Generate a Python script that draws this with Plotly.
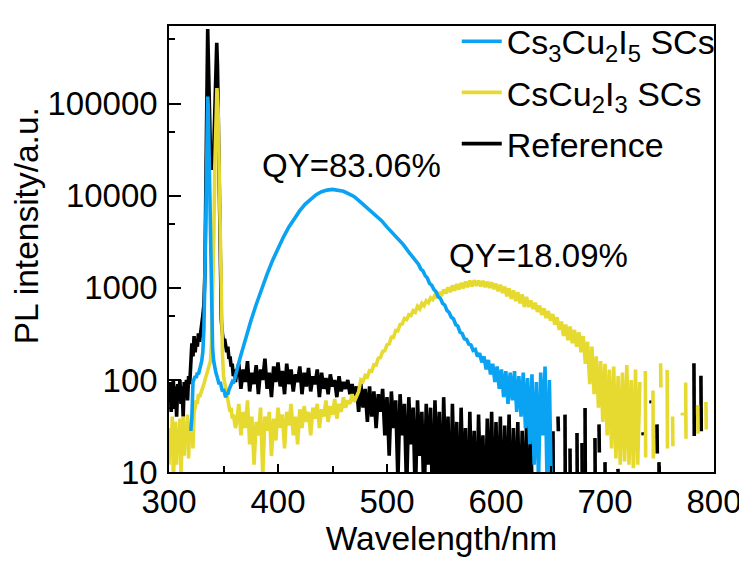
import plotly.graph_objects as go

# ---------------- data ----------------
# Cs3Cu2I5 SCs (blue)
blue_wl = (list(range(320, 336)) + [335.5] + list(range(336, 361))
           + list(range(365, 526, 5)) + list(range(527, 652, 2)))
blue_I = ([28, 40, 95, 100, 110, 105, 120, 115, 130, 140, 160, 200, 350, 1500, 15000, 90000]
          + [120000]
          + [95000, 20000, 2500, 500, 220, 160, 130, 120, 110, 100, 90, 95, 80, 75, 80,
             70, 65, 72, 70, 78, 82, 88, 95, 92, 100]
          + [170, 275, 435, 660, 980, 1410, 1990, 2710, 3570, 4590, 5700, 6900, 8130, 9290,
             10300, 11070, 11540, 11750, 11600, 11200, 10500, 9800, 8700, 7760, 6900, 6170,
             5370, 4570, 3980, 3470, 2950, 2450, 2040]
          + [1900, 1800, 1600, 1530, 1360, 1280, 1120, 1070, 960, 910, 800, 770, 680, 650, 570,
             540, 480, 460, 400, 385, 330, 320, 280, 275, 245, 240, 210, 215, 180, 195,
             155, 180, 130, 165, 115, 150, 95, 140, 80, 130, 65, 125, 55, 120, 60, 125, 45,
             110, 40, 120, 30, 105, 20, 115, 12, 95, 8, 120, 25, 140, 6, 100, 4])

# CsCu2I3 SCs (yellow)
yel_wl = (list(range(300, 344)) + [344] + list(range(345, 362))
          + list(range(362, 475, 2)) + list(range(476, 733, 2)))
yel_I = ([12, 30, 15, 40, 8, 25, 35, 12, 30, 20, 38, 10, 28, 40, 15, 35, 22, 42, 14, 35,
          25, 40, 18, 45, 50, 60, 55, 70, 65, 70]
         + [75, 80, 90, 100, 110, 120, 130, 140, 160, 250, 700, 3000, 20000, 90000]
         + [148000]
         + [90000, 20000, 3000, 600, 200, 110, 95, 80, 70, 57, 55, 45, 50, 38, 42, 32, 30]
         + [35, 55, 25, 45, 30, 60, 20, 40, 12, 35, 25, 50, 9, 40, 28, 45, 15, 38, 22, 50,
            30, 42, 18, 45, 32, 55, 25, 40, 20, 48, 30, 52, 35, 45, 25, 50, 38, 55, 30, 48,
            40, 60, 35, 52, 42, 62, 38, 55, 45, 65, 50, 60, 55, 70, 58, 65, 75]
         + [100, 96, 112, 108, 126, 124, 146, 145, 172, 175, 204, 208, 240, 246, 292, 290,
            345, 342, 400, 405, 465, 452, 510, 500, 565, 545, 630, 590, 680, 640, 725, 690,
            780, 745, 840, 780, 900, 820, 960, 870, 1010, 900, 1060, 930, 1100, 960, 1130,
            990, 1170, 1020, 1200, 1040, 1210, 1050, 1200, 1040, 1190, 1020, 1170, 1000,
            1150, 970, 1110, 920, 1080, 880, 1030, 810, 990, 760, 940, 720, 900, 680, 850,
            620, 800, 620, 730, 590, 690, 550, 640, 510, 600, 470, 560, 440, 520, 400, 480,
            350, 430, 300, 400, 270, 380, 250, 350, 230, 330, 200, 300, 150, 260, 90, 230,
            70, 180, 50, 160, 35, 150, 25, 130, 18, 140, 14, 110, 12, 120, 13, 145, 12, 100,
            11, 130, 12, 95])
# isolated yellow fragments beyond 732 nm (None = no positive reading)
yel_seg_wl = [None, 737, 737.3, None, 744, 744.3, None, 751, 751.3, None, 757, 757.3, None,
              762, 762.3, None, 770.8, 771.2, None, 774, 774.3, None, 785, 785.3, None,
              792.6, 792.9]
yel_seg_I = [None, 125, 14.4, None, 77, 14, None, 152, 83, None, 128, 18, None,
             40, 19, None, 44, 41, None, 94, 23, None, 53.5, 26, None, 57.5, 29]

# Reference (black)
blk_wl = (list(range(300, 336)) + [335.5] + list(range(336, 344)) + [343.8, 344.5]
          + list(range(345, 363)) + list(range(364, 635, 2)))
blk_I = ([60, 95, 45, 80, 100, 50, 85, 40, 90, 65, 100, 55, 85, 40, 95, 70, 100, 60, 110, 90]
         + [150, 250, 180, 300, 200, 280, 230, 320, 260, 350, 400, 500, 650, 1500, 20000, 250000]
         + [650000]
         + [350000, 80000, 30000, 20000, 20000, 30000, 80000, 320000]
         + [460000, 250000]
         + [100000, 15000, 2000, 450, 320, 260, 280, 220, 200, 230, 170, 180, 140, 150, 110,
            130, 95, 120]
         + [150, 80, 130, 95, 160, 75, 120, 90, 145, 70, 130, 100, 170, 80, 120, 65, 140, 95,
            155, 85, 125, 70, 150, 90, 130, 75, 115, 95, 140, 70, 120, 85, 135, 75, 110, 90,
            130, 65, 120, 80, 105, 70, 115, 85, 100, 65, 110, 75, 95, 80, 100, 70, 90, 65]
         + [85, 45, 90, 50, 80, 35, 85, 40, 75, 30, 70, 45, 80, 25, 65, 15, 75, 30, 60, 8,
            70, 25, 55, 6, 65, 20, 50, 5, 60, 15, 45, 4, 55, 12, 50, 3, 60, 10, 45, 3,
            65, 8, 40, 2, 55, 6, 35, 2, 50, 5, 30, 2, 45, 4, 28, 2, 42, 5, 25, 2,
            38, 4, 45, 2, 35, 3, 40, 2, 32, 3, 42, 2, 30, 3, 35, 2, 28, 3, 33, 2, 25, 2])
blk_seg_wl = [None, 652.3, 652.6, None, 656.9, 657.2, None, 663.3, 663.6, None, 667.9, 668.2,
              None, 674.3, 674.6, None, 678.9, 679.2, None, 681.7, 682.0, None, 690.8, 691.1,
              None, 694.5, 694.8, None, 700.0, 700.3, None, 711.8, 712.1, None, 734.8, 735.1,
              None, 742.1, 742.4, None, 747.7, 748.0, None, 749.5, 749.8, None, 781.6, 781.9,
              None, 788.0, 788.3]
blk_seg_I = [None, 27.7, 5, None, 40, 27.7, None, 42, 5, None, 18, 5,
             None, 26.5, 5, None, 20.7, 5, None, 49.7, 5, None, 23.4, 5,
             None, 32.9, 16.3, None, 12.8, 5, None, 10.8, 10.0, None, 27, 25.1,
             None, 60, 55.8, None, 32.9, 15.9, None, 12.8, 5, None, 152, 24.6,
             None, 111, 27.7]

x_ticks = [300, 400, 500, 600, 700, 800]
x_minor = [350, 450, 550, 650, 750]
y_ticks = [10, 100, 1000, 10000, 100000]
y_ticktext = ["10", "100", "1000", "10000", "100000"]
y_minor = [50, 500, 5000, 50000, 500000]

names = ["Cs<sub>3</sub>Cu<sub>2</sub>I<sub>5</sub> SCs",
         "CsCu<sub>2</sub>I<sub>3</sub> SCs",
         "Reference"]
colors = ["#0aa2f2", "#e6da30", "#000000"]
qy_text = ["QY=83.06%", "QY=18.09%"]
qy_pos = [(467, 4.33), (639, 3.35)]

FONT = "Liberation Sans, Arial, sans-serif"
LW = 3.6

fig = go.Figure()
# drawing order: Reference, CsCu2I3, Cs3Cu2I5 (blue on top); legend order set by legendrank
fig.add_trace(go.Scatter(x=blk_wl + blk_seg_wl, y=blk_I + blk_seg_I, mode="lines",
                         name=names[2], legendgroup="c", legendrank=3,
                         line=dict(color=colors[2], width=LW), connectgaps=False))
fig.add_trace(go.Scatter(x=yel_wl + yel_seg_wl, y=yel_I + yel_seg_I, mode="lines",
                         name=names[1], legendgroup="b", legendrank=2,
                         line=dict(color=colors[1], width=LW), connectgaps=False))
fig.add_trace(go.Scatter(x=blue_wl, y=blue_I, mode="lines",
                         name=names[0], legendgroup="a", legendrank=1,
                         line=dict(color=colors[0], width=LW)))

for t, (xx, yy) in zip(qy_text, qy_pos):
    fig.add_annotation(x=xx, y=yy, xref="x", yref="y", text=t, showarrow=False,
                       font=dict(family=FONT, size=33, color="#000"))

# the page adds an 8 px body margin, so the figure is sized/offset to compensate
fig.update_layout(
    width=739, height=555,
    margin=dict(l=161, r=33, t=5, b=91),
    paper_bgcolor="white", plot_bgcolor="white",
    font=dict(family=FONT, color="#000"),
    showlegend=True,
    legend=dict(x=0.528, y=1.03, xanchor="left", yanchor="top",
                traceorder="grouped", bgcolor="rgba(0,0,0,0)",
                font=dict(family=FONT, size=34, color="#000"),
                itemwidth=40, tracegroupgap=4),
)
fig.update_xaxes(
    range=[300, 800], tickvals=x_ticks, ticks="inside", ticklen=8, tickwidth=1.5,
    tickcolor="#000", showline=True, linecolor="#000", linewidth=1.5, mirror=True,
    showgrid=False, zeroline=False, ticklabelstandoff=0,
    tickfont=dict(family=FONT, size=33, color="#000"),
    minor=dict(tickvals=x_minor, ticks="inside", ticklen=6, tickwidth=1.5, tickcolor="#000",
               showgrid=False),
    title=dict(text="Wavelength/nm", font=dict(family=FONT, size=33.5, color="#000"), standoff=6),
)
fig.update_yaxes(
    type="log", range=[1, 5.845], tickvals=y_ticks, ticktext=y_ticktext,
    ticks="inside", ticklen=12, tickwidth=1.5, tickcolor="#000",
    showline=True, linecolor="#000", linewidth=1.5, mirror=True,
    showgrid=False, zeroline=False, ticklabelstandoff=3,
    tickfont=dict(family=FONT, size=33, color="#000"),
    minor=dict(tickvals=y_minor, ticks="inside", ticklen=6, tickwidth=1.5, tickcolor="#000",
               showgrid=False),
    title=dict(text="&nbsp;&nbsp;&nbsp;&nbsp;&nbsp;PL intensity/a.u.",
               font=dict(family=FONT, size=33.5, color="#000"), standoff=4),
)

fig.write_html("out.html")
